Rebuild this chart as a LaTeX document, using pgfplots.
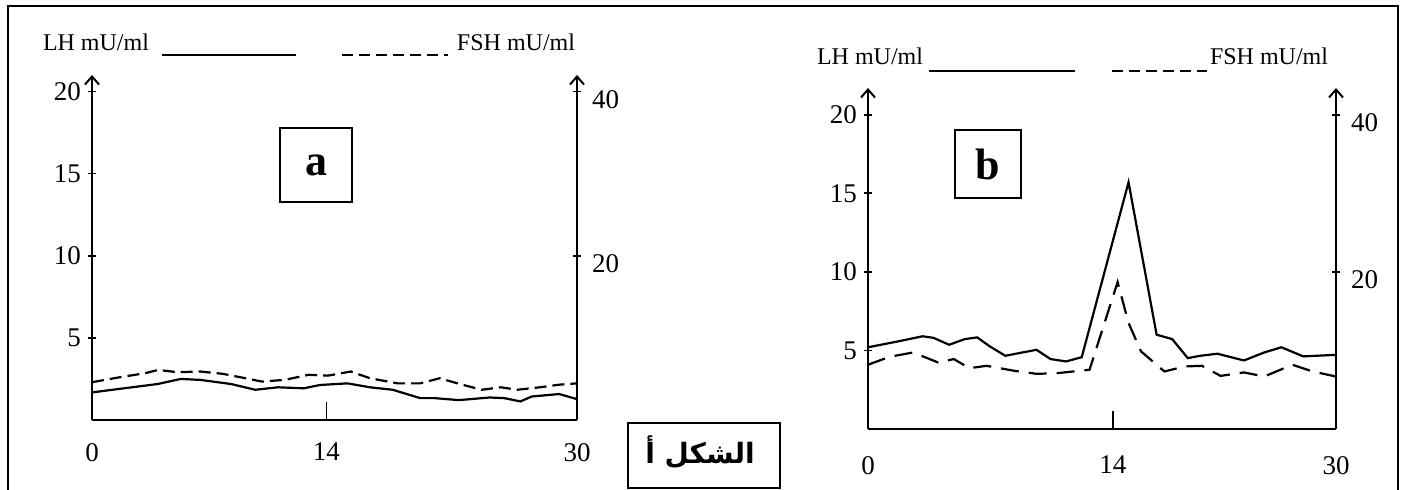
\documentclass[border=0pt]{standalone}
\usepackage{pgfplots}
\pgfplotsset{compat=1.18}
\usetikzlibrary{arrows.meta}
\usepackage{fontspec}
\setmainfont{Liberation Serif}
\newfontfamily\arabicfont[Script=Arabic]{DejaVu Sans}
\TeXXeTstate=1

\pgfplotstableread{
x y
0 1.68
4.06 2.19
5.5 2.5
6.7 2.44
8.6 2.19
10.1 1.84
11.5 1.99
13.1 1.93
14.1 2.13
15.8 2.23
17.2 1.99
18.6 1.84
20.3 1.33
21.2 1.33
22.7 1.21
24.6 1.37
25.5 1.33
26.5 1.13
27.2 1.43
28.9 1.58
30 1.27
}\LHa
\pgfplotstableread{
x y
0 4.6
1.7 5.2
3.3 5.7
4.1 6.1
5.25 5.82
6.7 5.9
8.1 5.62
9.5 5.08
10.5 4.68
11.9 4.88
13.4 5.5
14.6 5.4
16.0 5.9
17.2 5.08
18.9 4.46
20.3 4.46
21.5 5.08
22.9 4.3
24.1 3.68
25.3 3.98
26.3 3.68
27.7 3.98
28.9 4.3
30 4.46
}\FSHa
\pgfplotstableread{
x y
0 5.2
1.9 5.57
3.5 5.9
4.2 5.8
5.2 5.36
6.2 5.72
7.0 5.83
7.8 5.26
8.8 4.66
10.8 5.04
11.7 4.45
12.7 4.3
13.7 4.57
16.7 15.7
18.5 6.0
19.5 5.72
20.5 4.51
21.3 4.66
22.4 4.79
24.1 4.36
25.4 4.87
26.5 5.2
27.9 4.62
30 4.72
}\LHb
\pgfplotstableread{
x y
0 8.18
1.4 9.2
2.9 9.74
4.5 8.46
5.5 8.9
6.5 7.74
7.6 8.04
9.4 7.4
10.8 7.02
12.1 7.1
14.2 7.54
16.0 18.7
16.7 13.5
17.5 9.88
19.0 7.32
20.3 7.96
21.4 8.04
22.6 6.76
24.1 7.2
25.4 6.68
27.2 8.18
28.5 7.32
30 6.68
}\FSHb

\pgfplotsset{
  base/.style={scale only axis, xmin=0, xmax=30, ymin=0,
    /pgf/number format/assume math mode=true,
    ticklabel style={font=\fontsize{13.5}{13.5}\selectfont},
    every tick/.style={line width=0.9pt, black},
    major tick length=4pt,
    tick align=outside,
    clip=false},
  yleft/.style={base, axis y line=left, axis x line=none,
    y axis line style={line width=1pt, -{Straight Barb[length=4pt,width=7pt,line width=1pt]}},
    ytick={5,10,15,20}},
  yright/.style={base, axis y line=right, axis x line=none,
    y axis line style={line width=1pt, -{Straight Barb[length=4pt,width=7pt,line width=1pt]}},
    ytick={20,40}, yticklabel style={yshift=-4pt, xshift=2pt}},
  xbot/.style={base, axis x line=bottom, axis y line=none,
    x axis line style={line width=1.2pt, -},
    tick align=inside, major tick length=9pt,
    xticklabels={0,14,30}},
}

\begin{document}
\begin{tikzpicture}
\useasboundingbox (0,0) rectangle (703.5pt,-245pt);

% Panel a
\begin{axis}[yleft, at={(46pt,-210pt)}, anchor=south west,
  width=242.5pt, height=172.5pt, ymax=21]
\addplot[black, line width=1.1pt, no marks] table[x=x,y=y] {\LHa};
\end{axis}
\begin{axis}[yright, at={(46pt,-210pt)}, anchor=south west,
  width=242.5pt, height=172.5pt, ymax=42]
\addplot[black, line width=1.1pt, no marks, dash pattern=on 6pt off 3pt] table[x=x,y=y] {\FSHa};
\end{axis}
\begin{axis}[xbot, at={(46pt,-210pt)}, anchor=south west,
  width=242.5pt, height=172.5pt, ymax=21, xtick={0,14.5,30},
  xticklabel style={yshift=-8pt}]
\end{axis}

% Panel b
\begin{axis}[yleft, at={(434pt,-214.5pt)}, anchor=south west,
  width=234pt, height=170.5pt, ymax=21.7]
\addplot[black, line width=1.1pt, no marks] table[x=x,y=y] {\LHb};
\end{axis}
\begin{axis}[yright, at={(434pt,-214.5pt)}, anchor=south west,
  width=234pt, height=170.5pt, ymax=43.4]
\addplot[black, line width=1.1pt, no marks, dash pattern=on 9pt off 5pt] table[x=x,y=y] {\FSHb};
\end{axis}
\begin{axis}[xbot, at={(434pt,-214.5pt)}, anchor=south west,
  width=234pt, height=170.5pt, ymax=21.7, xtick={0,15.7,30},
  xticklabel style={yshift=-10pt}]
\end{axis}

\begin{scope}[x=0.5pt, y=-0.5pt]
  % outer frame
  \draw[line width=1.3pt] (8,500) -- (8,6) -- (1398,6) -- (1398,500);
  % legends panel a
  \node[font=\fontsize{12}{12}\selectfont] at (96,42) {LH mU/ml};
  \node[font=\fontsize{12}{12}\selectfont] at (516,42) {FSH mU/ml};
  \draw[line width=1pt] (162,55) -- (296,55);
  \draw[line width=1pt, dash pattern=on 5.5pt off 3pt] (342,55) -- (448,55);
  % legends panel b
  \node[font=\fontsize{12}{12}\selectfont] at (870,56) {LH mU/ml};
  \node[font=\fontsize{12}{12}\selectfont] at (1269,56) {FSH mU/ml};
  \draw[line width=1pt] (929,71) -- (1075,71);
  \draw[line width=1pt, dash pattern=on 5.5pt off 3pt] (1112,71) -- (1207,71);
  % letter boxes
  \draw[line width=1pt] (280,128) rectangle (352,202);
  \node[font=\fontsize{22}{22}\selectfont\bfseries] at (316,165) {a};
  \draw[line width=1pt] (955,130) rectangle (1021,198);
  \node[font=\fontsize{22}{22}\selectfont\bfseries] at (988,164) {b};
  % figure caption box
  \draw[line width=1.2pt] (628,423) rectangle (780,488);
  \node[font=\fontsize{14}{14}\selectfont\bfseries] at (700,452) {\arabicfont\beginR الشكل أ\endR};
\end{scope}
\end{tikzpicture}
\end{document}
